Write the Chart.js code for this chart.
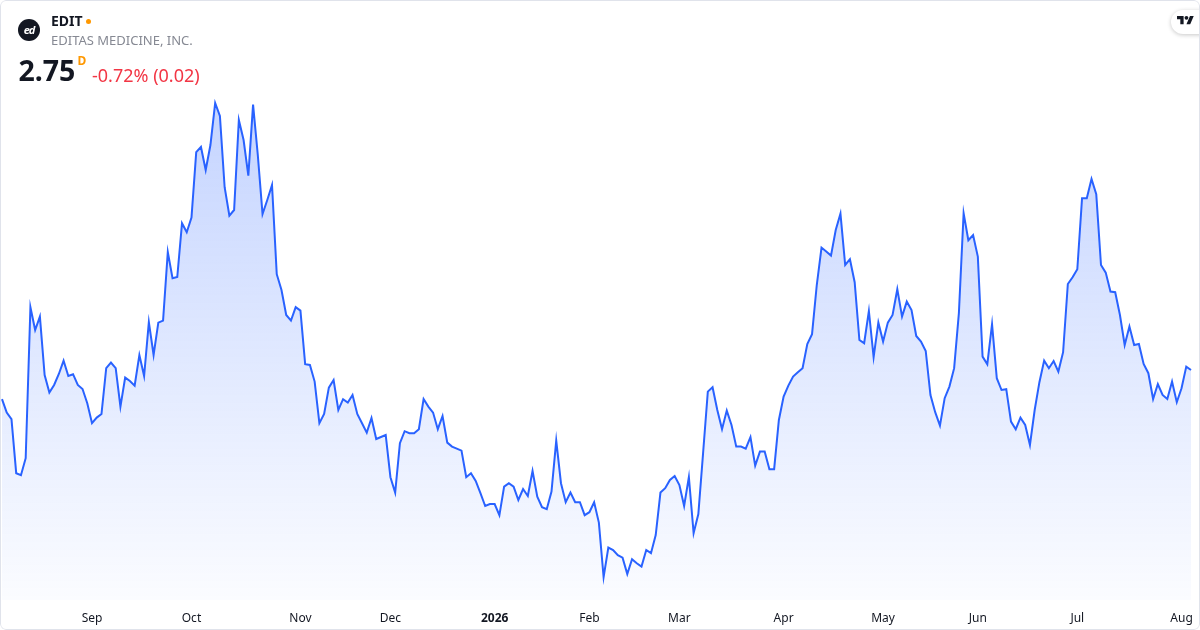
<!doctype html>
<html>

<head>
    <title>EDIT</title>
    <script src="https://cdn.jsdelivr.net/npm/chart.js"></script>
    <style>
        body { margin: 0; background: #fff; font-family: "Noto Sans", sans-serif; }
        #frame { position: relative; width: 1200px; height: 630px; overflow: hidden; border-radius: 6px; }
        #frame canvas { position: absolute; left: 0; top: 0; }
        #border { position: absolute; left: 0; top: 0; width: 1200px; height: 630px; box-sizing: border-box;
                  border: 1px solid #e0e3eb; border-radius: 6px; pointer-events: none; }
        .txt { position: absolute; white-space: nowrap; line-height: 1; }
        #logo { position: absolute; left: 18px; top: 19px; width: 22px; height: 22px; border-radius: 50%;
                background: #131722; color: #fff; font-size: 11px; font-weight: bold; font-style: italic;
                text-align: center; line-height: 21px; letter-spacing: -1px; }
        #tv { position: absolute; left: 1171px; top: 10px; width: 44px; height: 24px; border-radius: 12px;
              background: #fff; box-shadow: 0 1px 4px rgba(0, 0, 0, 0.22); }
        #tv svg { position: absolute; left: 6px; top: 4px; }
    </style>
</head>

<body>
    <div id="frame">
        <canvas id="grafico" width="1200" height="630"></canvas>
        <div id="logo">ed</div>
        <div class="txt" style="left:51px; top:13.6px; font-size:14px; font-weight:bold; color:#131722;">EDIT</div>
        <div style="position:absolute; left:86px; top:18.5px; width:5px; height:5px; border-radius:50%; background:#ff9800;"></div>
        <div class="txt" style="left:51px; top:33.5px; font-size:13px; color:#868993;">EDITAS MEDICINE, INC.</div>
        <div class="txt" style="left:18.5px; top:56px; font-size:28.5px; font-weight:bold; color:#131722;">2.75</div>
        <div class="txt" style="left:77.5px; top:54.5px; font-size:12px; font-weight:bold; color:#ff9800;">D</div>
        <div class="txt" style="left:92px; top:65.5px; font-size:18px; color:#f23645;">-0.72% (0.02)</div>
        <div id="tv">
            <svg width="17" height="13.2" viewBox="0 0 36 28" fill="#131722">
                <path d="M14 22H7V11H0V4h14v18zM28 22h-8l7.5-18h8L28 22z"></path>
                <circle cx="20" cy="8" r="4"></circle>
            </svg>
        </div>
        <div id="border"></div>
    </div>

    <script>
        // daily closes, Aug 5 2025 .. Aug 5 2026
        var prices = [
            2.604, 2.537, 2.504, 2.234, 2.224, 2.309, 3.064, 2.95, 3.017, 2.725, 2.637, 2.675, 2.73, 2.797, 2.72, 2.729, 2.675, 2.655, 2.584, 2.484,
            2.512, 2.53, 2.759, 2.787, 2.759, 2.567, 2.712, 2.695, 2.672, 2.825, 2.72, 2.989, 2.825, 2.987, 2.997, 3.34, 3.209, 3.215, 3.484, 3.439,
            3.512, 3.839, 3.865, 3.75, 3.875, 4.085, 4.02, 3.664, 3.522, 3.55, 4.0, 3.9, 3.722, 4.077, 3.825, 3.53, 3.6, 3.675, 3.229, 3.15,
            3.025, 2.997, 3.064, 3.047, 2.779, 2.775, 2.692, 2.484, 2.53, 2.662, 2.7, 2.55, 2.604, 2.587, 2.625, 2.53, 2.484, 2.437, 2.51, 2.405,
            2.415, 2.425, 2.214, 2.137, 2.384, 2.444, 2.434, 2.434, 2.454, 2.605, 2.567, 2.537, 2.454, 2.52, 2.387, 2.367, 2.357, 2.347, 2.214, 2.234,
            2.195, 2.134, 2.07, 2.08, 2.08, 2.024, 2.167, 2.184, 2.167, 2.1, 2.155, 2.12, 2.245, 2.117, 2.064, 2.054, 2.142, 2.397, 2.184, 2.089,
            2.137, 2.089, 2.089, 2.024, 2.039, 2.089, 1.987, 1.714, 1.862, 1.85, 1.824, 1.812, 1.73, 1.804, 1.784, 1.767, 1.85, 1.834, 1.925, 2.137,
            2.159, 2.2, 2.22, 2.175, 2.07, 2.214, 1.934, 2.03, 2.334, 2.642, 2.664, 2.55, 2.454, 2.547, 2.475, 2.367, 2.367, 2.357, 2.414, 2.272,
            2.342, 2.342, 2.254, 2.254, 2.5, 2.617, 2.672, 2.717, 2.739, 2.759, 2.88, 2.929, 3.175, 3.362, 3.342, 3.322, 3.45, 3.532, 3.275, 3.304,
            3.189, 2.9, 2.884, 3.045, 2.814, 2.987, 2.892, 2.987, 3.025, 3.154, 3.017, 3.092, 3.05, 2.92, 2.892, 2.845, 2.625, 2.539, 2.472, 2.609,
            2.667, 2.759, 3.034, 3.534, 3.399, 3.425, 3.317, 2.817, 2.779, 2.979, 2.709, 2.65, 2.654, 2.492, 2.454, 2.512, 2.475, 2.375, 2.55, 2.689,
            2.797, 2.759, 2.795, 2.742, 2.839, 3.18, 3.214, 3.254, 3.609, 3.609, 3.705, 3.629, 3.275, 3.237, 3.142, 3.139, 3.025, 2.875, 2.967, 2.875,
            2.88, 2.78, 2.734, 2.605, 2.68, 2.625, 2.605, 2.692, 2.589, 2.659, 2.767, 2.75
        ];

        // month labels and the index of the first trading day of each month
        var monthNames = ['Sep', 'Oct', 'Nov', 'Dec', '2026', 'Feb', 'Mar', 'Apr', 'May', 'Jun', 'Jul', 'Aug'];
        var monthStarts = [19, 40, 63, 82, 104, 124, 143, 165, 186, 206, 227, 249];

        var labels = prices.map(function (p, i) {
            var k = monthStarts.indexOf(i);
            return k >= 0 ? monthNames[k] : '';
        });

        Chart.defaults.font.family = 'Noto Sans';

        var grafico = new Chart(document.getElementById('grafico').getContext('2d'), {
            type: 'line',
            data: {
                labels: labels,
                datasets: [{
                    data: prices,
                    borderColor: '#2962ff',
                    borderWidth: 2,
                    pointRadius: 0,
                    tension: 0,
                    fill: 'start',
                    backgroundColor: function (ctx) {
                        var a = ctx.chart.chartArea;
                        if (!a) return 'rgba(41, 98, 255, 0.1)';
                        var g = ctx.chart.ctx.createLinearGradient(0, a.top, 0, a.bottom);
                        g.addColorStop(0, 'rgba(41, 98, 255, 0.28)');
                        g.addColorStop(1, 'rgba(41, 98, 255, 0.02)');
                        return g;
                    }
                }]
            },
            options: {
                responsive: false,
                animation: false,
                devicePixelRatio: 1,
                layout: { autoPadding: false, padding: { top: 90, left: 2, right: 9, bottom: 0 } },
                plugins: {
                    legend: { display: false },
                    tooltip: { enabled: false }
                },
                scales: {
                    x: {
                        grid: { display: false, drawTicks: false },
                        border: { display: false },
                        ticks: {
                            autoSkip: false,
                            maxRotation: 0,
                            padding: 11,
                            color: '#131722',
                            font: function (ctx) {
                                var bold = ctx.tick && ctx.tick.label === '2026';
                                return { size: 12, weight: bold ? 'bold' : 'normal' };
                            }
                        },
                        afterFit: function (s) {
                            s.height = 30;
                            s.paddingLeft = 0;
                            s.paddingRight = 0;
                        }
                    },
                    y: {
                        display: false,
                        min: 1.6,
                        max: 4.15
                    }
                }
            }
        });
    </script>
</body>

</html>
